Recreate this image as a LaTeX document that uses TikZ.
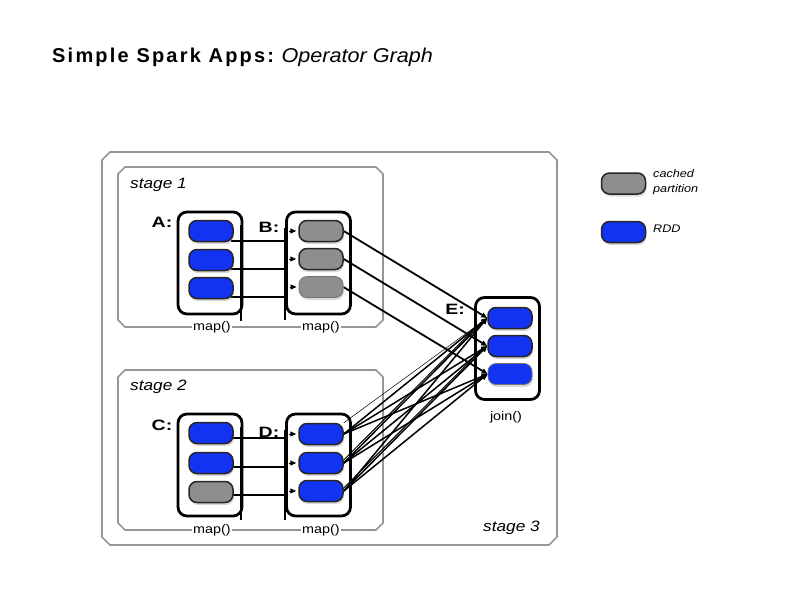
\documentclass[tikz,border=0pt]{standalone}
\usepackage{fontspec}
\usepackage{graphicx}
\setmainfont{Liberation Sans}
\usetikzlibrary{shadows,arrows.meta,calc}
\pgfdeclarelayer{back}
\pgfdeclarelayer{mid}
\pgfsetlayers{back,mid,main}
\definecolor{rddblue}{RGB}{18,52,242}
\definecolor{cachegray}{RGB}{142,142,142}
\definecolor{stagegray}{RGB}{150,150,150}
\newcommand{\hs}[2][1.15]{\scalebox{#1}[1]{#2}}
\newcommand{\chambox}[5]{%
  \draw[stagebox] ({#1+#5},#2) -- ({#3-#5},#2) -- (#3,{#2+#5}) -- (#3,{#4-#5})
   -- ({#3-#5},#4) -- ({#1+#5},#4) -- (#1,{#4-#5}) -- (#1,{#2+#5}) -- cycle;}
\begin{document}
\begin{tikzpicture}[x=1pt,y=-1pt,
  part/.style={draw=black!85, line width=1.5pt, rounded corners=8pt,
    minimum width=44pt, minimum height=21pt, inner sep=0pt,
    drop shadow={shadow xshift=1pt,shadow yshift=-2.5pt,opacity=0.3}},
  rdd/.style={part, fill=rddblue},
  cached/.style={part, fill=cachegray},
  faint/.style={draw=black!55, line width=0.8pt},
  holder/.style={draw=black, line width=2.8pt, rounded corners=9pt,
    minimum width=64pt, minimum height=102pt, inner sep=0pt},
  bar/.style={line width=2.6pt, black},
  stagebox/.style={draw=stagegray, line width=1.6pt},
  link/.style={line width=1.8pt, black},
  dlink/.style={line width=1.5pt, black},
  tip/.style={-{Triangle[length=6pt,width=5pt]}},
  stagelbl/.style={anchor=base west, inner sep=0pt, font=\fontsize{15}{18}\selectfont\itshape},
  oplbl/.style={fill=white, inner sep=1.5pt, font=\fontsize{12.5}{15}\selectfont},
  dslbl/.style={inner sep=0pt, font=\fontsize{15}{18}\selectfont\bfseries},
  leglbl/.style={anchor=west, inner sep=0pt, align=left, font=\fontsize{11}{15.5}\selectfont\itshape}
]
\useasboundingbox (0,0) rectangle (800,600);

% title
\node[anchor=base west, inner sep=0pt] (title) at (52,62)
  {\fontsize{20}{24}\selectfont{\bfseries\addfontfeature{LetterSpace=11}Simple Spark Apps:} \itshape\hs[1.08]{Operator Graph}};

% stage boxes
\begin{pgfonlayer}{back}
\chambox{102}{152}{557}{545}{8}
\chambox{118}{167}{383}{327}{7}
\chambox{118}{370}{383}{530}{7}
% containers
\node[holder] (A) at (210,263) {};
\node[holder] (B) at (318.5,263) {};
\node[holder] (C) at (210,465) {};
\node[holder] (D) at (318.5,465) {};
\node[holder] (E) at (507.5,348.5) {};
\end{pgfonlayer}

% bars
\coordinate (abar1) at (241,225); \coordinate (abar2) at (241,321);
\coordinate (bbar1) at (285,228); \coordinate (bbar2) at (285,320);
\coordinate (cbar1) at (241,427); \coordinate (cbar2) at (241,520);
\coordinate (dbar1) at (285,430); \coordinate (dbar2) at (285,520);
\draw[bar] (abar1) -- (abar2);
\draw[bar] (bbar1) -- (bbar2);
\draw[bar] (cbar1) -- (cbar2);
\draw[bar] (dbar1) -- (dbar2);

% partitions
\node[rdd] (a1) at (211,231) {};
\node[rdd] (a2) at (211,260) {};
\node[rdd] (a3) at (211,288) {};
\node[cached] (b1) at (321,231) {};
\node[cached] (b2) at (321,259) {};
\node[cached, faint] (b3) at (321,287) {};
\node[rdd] (c1) at (211,433) {};
\node[rdd] (c2) at (211,463) {};
\node[cached] (c3) at (211,492) {};
\node[rdd] (d1) at (321,434) {};
\node[rdd] (d2) at (321,463) {};
\node[rdd] (d3) at (321,491) {};
\node[rdd] (e1) at (510,318) {};
\node[rdd] (e2) at (510,346) {};
\node[rdd, faint] (e3) at (510,374) {};

% dataset labels
\node[dslbl] (lA) at (162,222) {\hs[1.3]{A:}};
\node[dslbl] (lB) at (269,227) {\hs[1.3]{B:}};
\node[dslbl] (lC) at (162,425) {\hs[1.3]{C:}};
\node[dslbl] (lD) at (269,432) {\hs[1.3]{D:}};
\node[dslbl] (lE) at (455,309) {\hs[1.3]{E:}};

% operator labels
\node[oplbl] (m1) at (212,327) {\hs{map()}};
\node[oplbl] (m2) at (321,327) {\hs{map()}};
\node[oplbl] (m3) at (212,530) {\hs{map()}};
\node[oplbl] (m4) at (321,530) {\hs{map()}};
\node[oplbl, fill=none] (j1) at (506,417) {\hs{join()}};

% stage labels
\node[stagelbl] (s1) at (130,188) {\hs{stage 1}};
\node[stagelbl] (s2) at (130,390) {\hs{stage 2}};
\node[stagelbl] (s3) at (483,531) {\hs{stage 3}};

% legend
\node[cached] (lg1) at (623.5,183.5) {};
\node[rdd] (lg2) at (623.5,232) {};
\node[leglbl] (lt1) at (653,182) {\hs{cached}\\\hs{partition}};
\node[leglbl] (lt2) at (653,229) {\hs{RDD}};

% connectors
\begin{pgfonlayer}{mid}
\foreach \s/\t/\off in {a1/b1/10, a2/b2/9, a3/b3/9, c1/d1/5, c2/d2/4, c3/d3/3} {
  \path ($(\s.east)+(-3,\off)$) coordinate (st);
  \path (st -| bbar1) coordinate (en);
  \draw[link] (st) -- (en);
  \draw[link, line width=1pt, tip] ($(\t.west)+(-9,0)$) -- ($(\t.west)+(-2,0)$);
}
\draw[link, tip] (b1.east) -- (e1.west);
\draw[link, tip] (b2.east) -- (e2.west);
\draw[link, tip] (b3.east) -- (e3.west);
\foreach \s in {d1,d2,d3} {
  \foreach \t in {e1,e2,e3} {
    \draw[dlink, tip] (\s.east) -- (\t.west);
  }
}
\draw[line width=0.5pt] (d1.north east) -- (e1.west);
\draw[line width=1pt] ($(d2.east)+(0,-3)$) -- ($(e1.west)+(-6,4)$);
\draw[line width=1pt] ($(d3.east)+(0,-3)$) -- ($(e2.west)+(-6,4)$);
\end{pgfonlayer}
\end{tikzpicture}
\end{document}
